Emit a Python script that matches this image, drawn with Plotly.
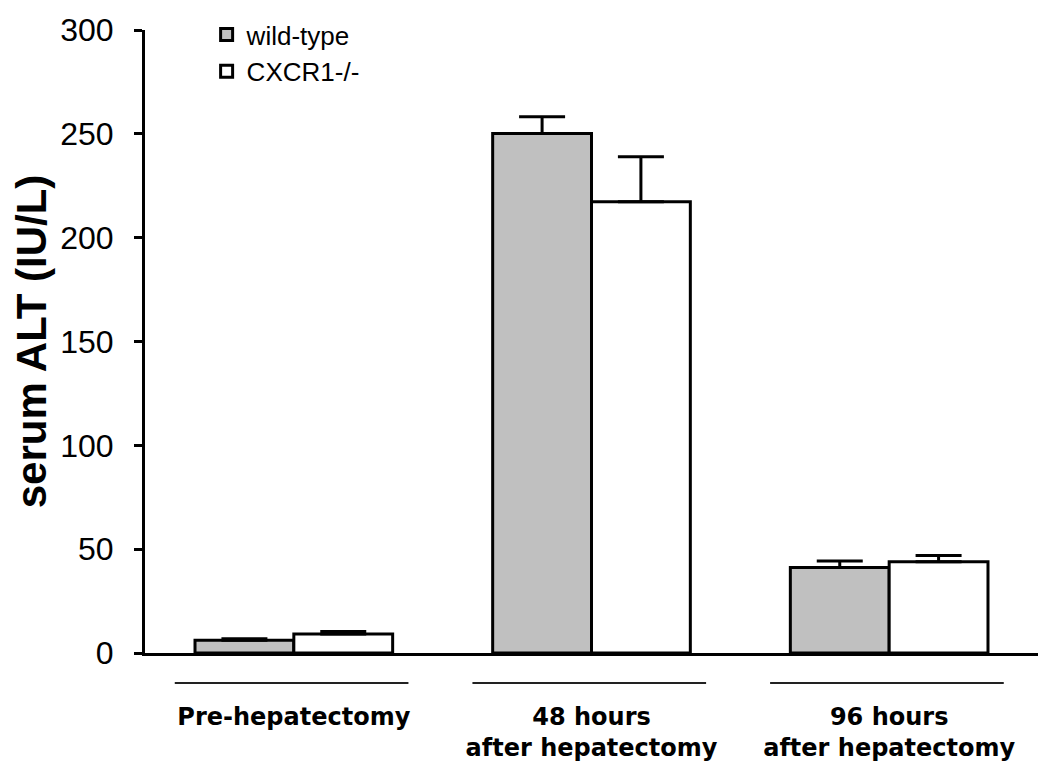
import plotly.graph_objects as go

categories = ["Pre-hepatectomy", "48 hours<br>after hepatectomy", "96 hours<br>after hepatectomy"]
wild_type = [6.1, 250.2, 41.2]
wild_type_err = [0.8, 8.0, 3.1]
cxcr1 = [9.1, 217.3, 43.9]
cxcr1_err = [1.3, 21.7, 3.1]
y_ticks = [0, 50, 100, 150, 200, 250, 300]

x_idx = list(range(len(categories)))

fig = go.Figure()
fig.add_trace(go.Bar(
    x=x_idx, y=wild_type, name="wild-type",
    marker=dict(color="#c0c0c0", line=dict(color="black", width=3)),
    error_y=dict(type="data", array=wild_type_err, symmetric=False, arrayminus=[0]*3,
                 color="black", thickness=3, width=23),
))
fig.add_trace(go.Bar(
    x=x_idx, y=cxcr1, name="CXCR1-/-",
    marker=dict(color="white", line=dict(color="black", width=3)),
    error_y=dict(type="data", array=cxcr1_err, symmetric=False, arrayminus=[0]*3,
                 color="black", thickness=3, width=23),
))

# category underline segments
for i in x_idx:
    fig.add_shape(type="line", xref="x", yref="paper",
                  x0=i - 0.40, x1=i + 0.385, y0=-0.048, y1=-0.048,
                  line=dict(color="#222222", width=2))

fig.update_layout(
    width=1042, height=768,
    margin=dict(l=137, r=12, t=22, b=123, autoexpand=False),
    paper_bgcolor="white", plot_bgcolor="white",
    barmode="group", bargap=0.336, bargroupgap=0,
    font=dict(family="Liberation Sans, Arial, sans-serif", color="black"),
    legend=dict(x=0.069, y=1.0305, xanchor="left", yanchor="top",
                bgcolor="rgba(0,0,0,0)", font=dict(size=26),
                tracegroupgap=0),
    showlegend=True,
)
fig.update_xaxes(
    range=[-0.5, 2.5], tickmode="array", tickvals=x_idx, ticktext=categories,
    showline=True, linecolor="black", linewidth=3, ticks="",
    showgrid=False, zeroline=False, automargin=False,
    tickfont=dict(size=24, family="DejaVu Sans, sans-serif", weight="bold"),
    ticklabelstandoff=40,
)
fig.update_yaxes(
    range=[0, 300], tickmode="array", tickvals=y_ticks,
    showline=True, linecolor="black", linewidth=3,
    ticks="outside", ticklen=8, tickwidth=3, tickcolor="black",
    showgrid=False, zeroline=False, automargin=False,
    tickfont=dict(size=32),
    ticklabelstandoff=14,
    title=dict(text="<b>serum ALT (IU/L)</b>", font=dict(size=42), standoff=18),
)

fig.write_html("out.html")
